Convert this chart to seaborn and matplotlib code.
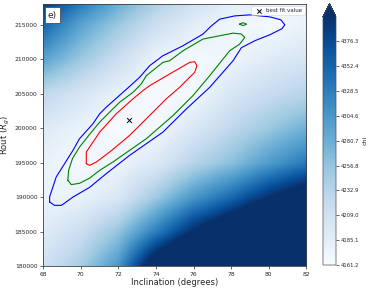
import numpy as np
import pandas as pd
import matplotlib
matplotlib.use("Agg")
import matplotlib.pyplot as plt
import seaborn as sns

# grade do chi (linhas = Rout, colunas = inclinacao)
incl = [68, 70, 72, 74, 76, 78, 80, 82]
rout = [180000, 185000, 190000, 195000, 200000, 205000, 210000, 215000, 220000]
chi = [
    [4209.0, 4244.9, 4304.6, 4448.0, 4520.0, 4579.5, 4639.2, 4710.9],
    [4189.9, 4213.8, 4256.8, 4328.5, 4405.0, 4460.0, 4531.7, 4603.4],
    [4174.3, 4178.0, 4198.0, 4250.0, 4304.6, 4347.6, 4400.2, 4443.2],
    [4179.1, 4164.8, 4173.2, 4194.7, 4232.9, 4261.6, 4299.8, 4333.3],
    [4192.3, 4176.7, 4161.2, 4166.0, 4197.1, 4225.7, 4252.0, 4278.3],
    [4225.7, 4201.8, 4177.9, 4161.9, 4166.0, 4199.4, 4218.6, 4232.9],
    [4292.7, 4252.0, 4213.8, 4174.3, 4164.8, 4172.0, 4189.9, 4201.8],
    [4352.4, 4292.7, 4252.0, 4213.8, 4185.1, 4169.6, 4164.8, 4177.9],
    [4412.2, 4359.6, 4299.8, 4256.8, 4225.7, 4194.7, 4187.5, 4177.9],
]
chi_min = 4161.2
chi_max = 4400.2
cbar_ticks = [4161.2, 4185.1, 4209.0, 4232.9, 4256.8, 4280.7, 4304.6, 4328.5, 4352.4, 4376.3]

# contornos (1, 2 e 3 sigma)
blue_incl = [68.35, 68.61, 68.98, 69.59, 70.47, 71.36, 72.60, 74.37, 75.62, 76.86, 78.10, 78.54,
             79.25, 80.05, 80.69, 80.85, 80.64, 80.05, 78.99, 78.19, 77.39, 76.95, 76.50, 75.44,
             74.73, 74.37, 73.67, 73.13, 72.50, 71.36, 71.01, 70.65, 69.94, 69.59, 68.70, 68.35, 68.35]
blue_rout = [189300, 188800, 188800, 190000, 191400, 193400, 196050, 199420, 202800, 205930, 209790, 211670,
             212680, 213550, 214420, 214990, 215720, 216150, 216440, 216290, 215820, 214850, 213650, 211960,
             210990, 210510, 209070, 207370, 205810, 203040, 202080, 200630, 198470, 196770, 192910, 190020, 189300]

green_incl = [69.32, 69.50, 69.94, 70.47, 71.01, 71.71, 73.49, 74.91, 75.97, 76.86, 77.21, 77.92, 78.45,
              78.72, 78.54, 78.10, 76.50, 75.44, 74.73, 74.37, 73.49, 73.22, 72.78, 72.07, 71.01, 70.47,
              69.94, 69.57, 69.36, 69.32]
green_rout = [192440, 191810, 192000, 192730, 193880, 195080, 198470, 201840, 204730, 207620, 208820, 211230, 212200,
              213160, 213650, 213790, 212930, 211230, 209790, 209540, 207620, 206420, 205200, 203760, 200870, 199090,
              197250, 195620, 193880, 192440]

red_incl = [70.30, 70.47, 70.83, 71.54, 72.60, 73.49, 74.55, 75.26, 76.06, 76.18, 76.06, 75.79, 74.73,
            73.67, 73.31, 72.78, 71.89, 71.01, 70.30, 70.30]
red_rout = [194850, 194600, 195080, 196530, 198940, 201360, 204250, 205930, 208100, 209070, 209640, 209540, 207860,
            206170, 205450, 204250, 202080, 199420, 196530, 194850]

island_incl = [78.44, 78.63, 78.82, 78.63, 78.44]
island_rout = [215090, 215300, 215090, 214880, 215090]

best_incl = [72.55]
best_rout = [201200]

sns.set_style("ticks")
plt.rcParams["font.family"] = ["DejaVu Sans"]

fig = plt.figure(figsize=(3.74, 2.91), dpi=100)
ax = fig.add_axes([0.115, 0.0859, 0.7045, 0.9])
cax = fig.add_axes([0.8636, 0.0893, 0.0348, 0.897])

# mapa de cor suave (interpolacao bilinear da grade, nos valores)
dx = (incl[1] - incl[0]) / 2
dy = (rout[1] - rout[0]) / 2
img = ax.imshow(np.array(chi), cmap="Blues", origin="lower", interpolation="bilinear",
                interpolation_stage="data",
                extent=[incl[0] - dx, incl[-1] + dx, rout[0] - dy, rout[-1] + dy],
                vmin=chi_min, vmax=chi_max, aspect="auto")

contornos = [(blue_incl, blue_rout, "blue"), (green_incl, green_rout, "green"),
             (island_incl, island_rout, "green"), (red_incl, red_rout, "red")]
for xs, ys, cor in contornos:
    df = pd.DataFrame({"incl": xs, "rout": ys})
    sns.lineplot(data=df, x="incl", y="rout", sort=False, estimator=None,
                 color=cor, lw=0.8, ax=ax)

sns.scatterplot(x=best_incl, y=best_rout, marker="x", color="k", s=12, linewidth=0.7,
                label="best fit value", ax=ax, zorder=5)

ax.set_xlim(68, 82)
ax.set_ylim(180000, 218000)
ax.set_xticks(range(68, 83, 2))
ax.set_yticks(range(180000, 216000, 5000))
ax.tick_params(labelsize=4.3, length=2.5, width=0.5, pad=1.5, colors="0.15")
for s in ax.spines.values():
    s.set_linewidth(0.6)
    s.set_color("0.25")
ax.set_xlabel("Inclination (degrees)", fontsize=6, labelpad=1)
ax.set_ylabel("Rout ($R_g$)", fontsize=6, labelpad=2)

leg = ax.legend(loc="upper right", fontsize=4, borderpad=0.4, handletextpad=0.3,
                borderaxespad=0.35, markerscale=0.9, framealpha=0.8)
leg.get_frame().set_linewidth(0.4)

ax.text(0.018, 0.975, "e)", transform=ax.transAxes, fontsize=6.5, va="top", ha="left",
        bbox=dict(boxstyle="square,pad=0.35", fc="white", ec="0.3", lw=0.6))

cb = fig.colorbar(img, cax=cax, extend="max", ticks=cbar_ticks)
cb.ax.set_yticklabels(["%.1f" % t for t in cbar_ticks])
cb.ax.tick_params(labelsize=3.8, length=2, width=0.5, pad=1.5)
cb.outline.set_linewidth(0.5)
cb.outline.set_edgecolor("0.3")
cb.set_label("chi", fontsize=4.5, labelpad=2)

fig.savefig("out.png", dpi=100)
